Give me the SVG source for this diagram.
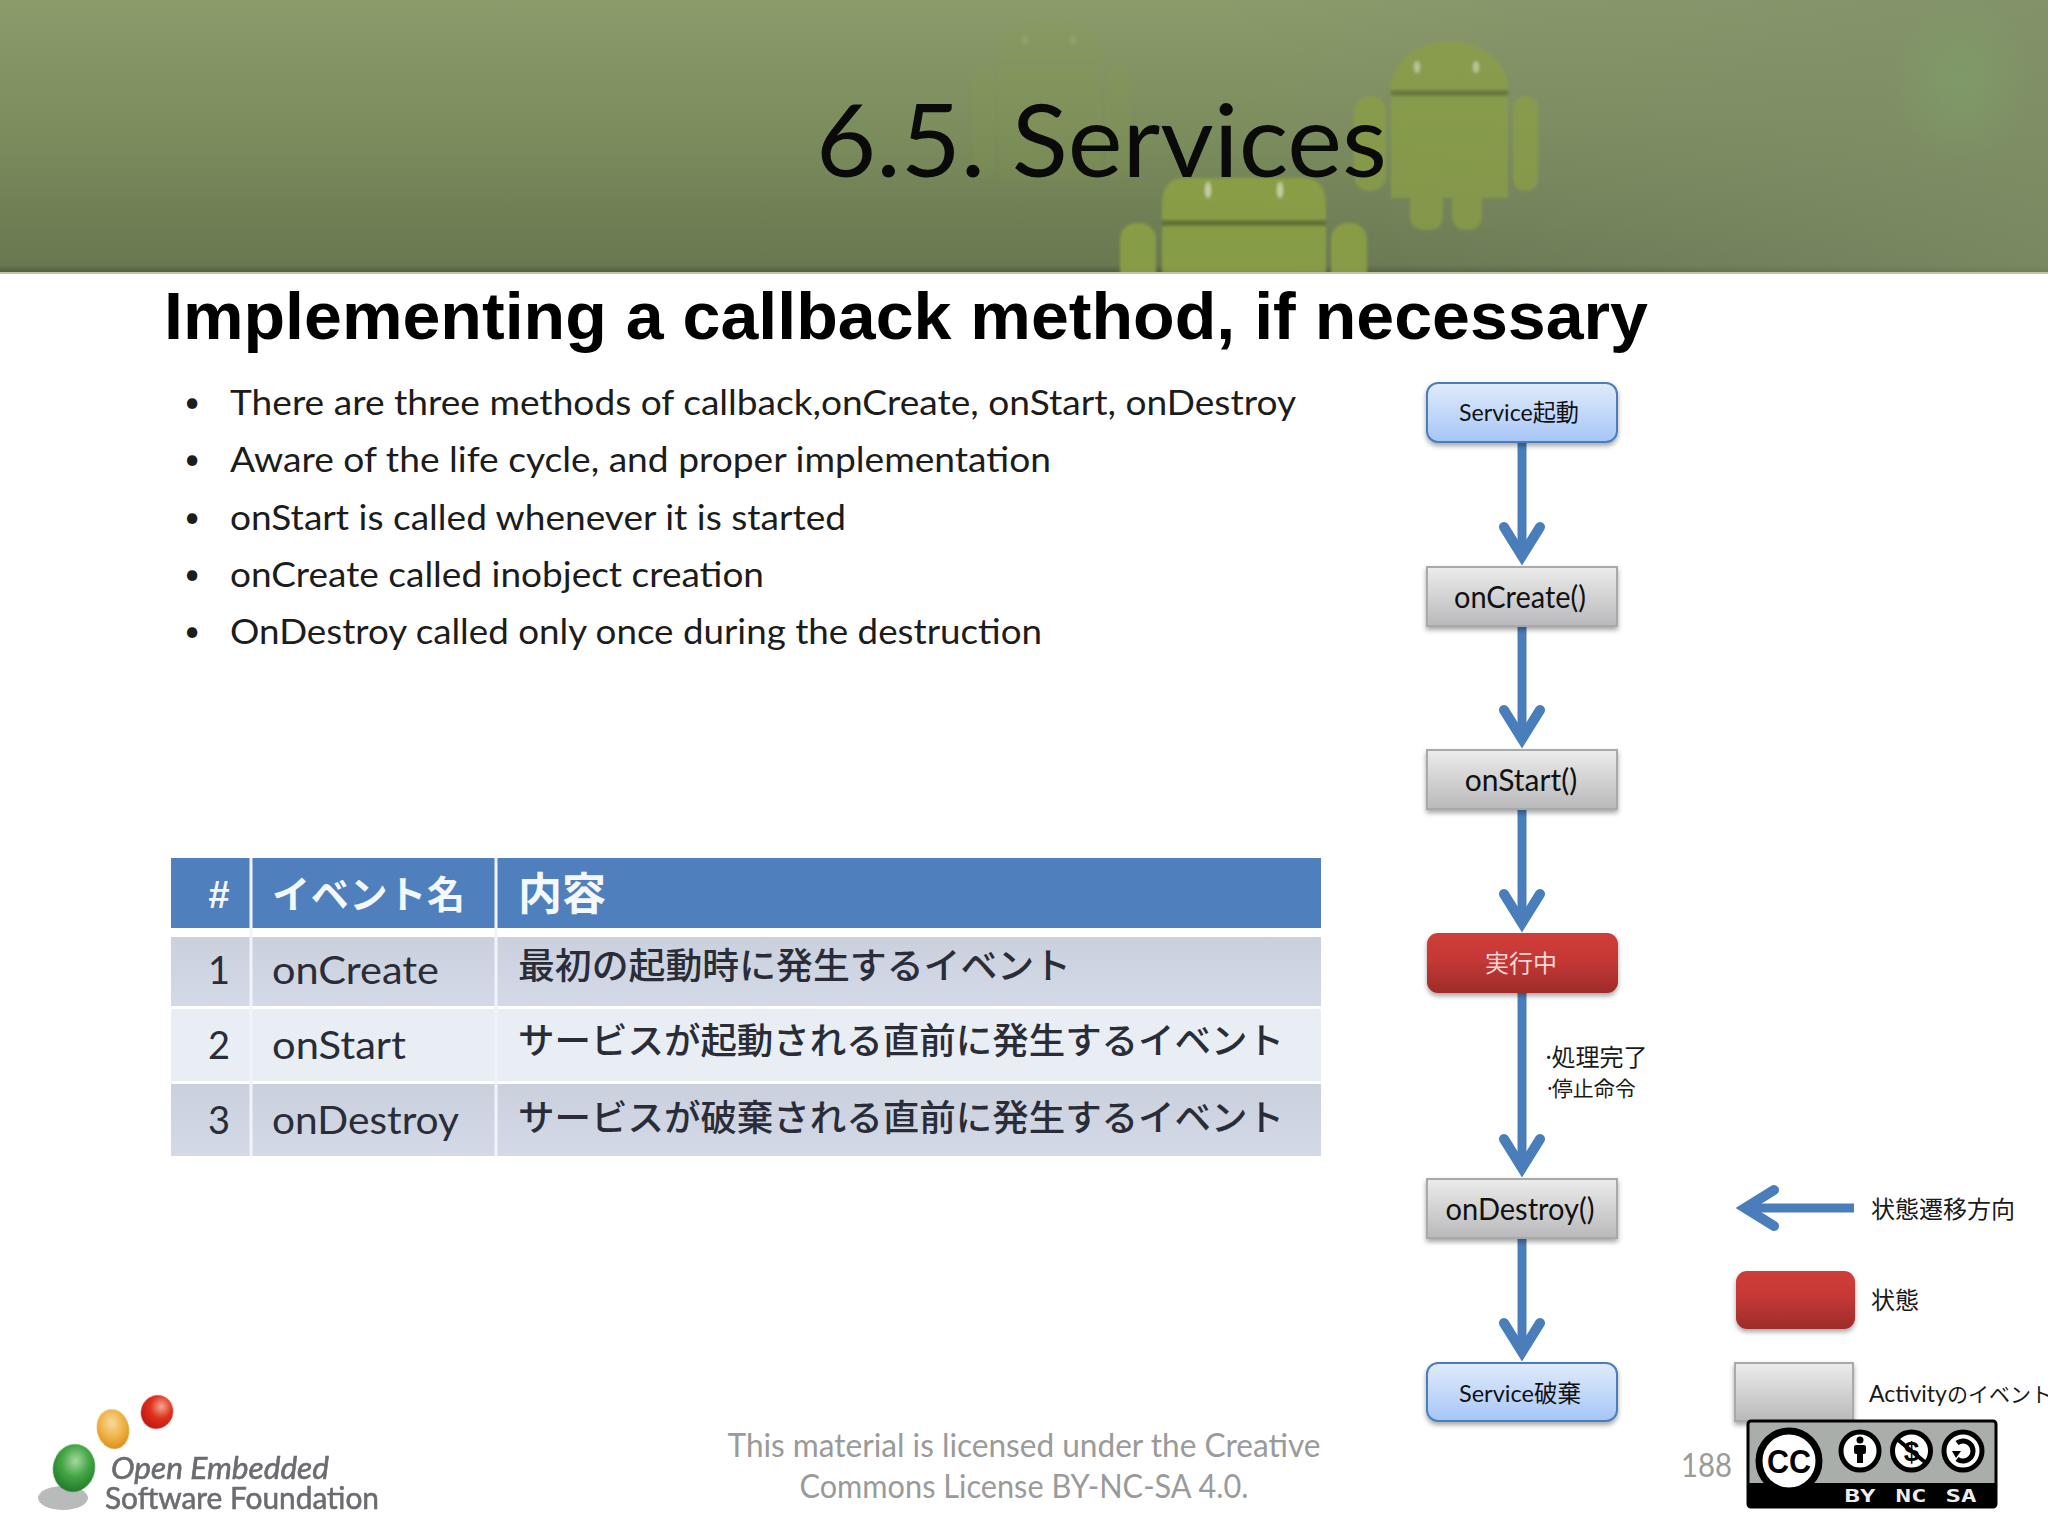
<svg xmlns="http://www.w3.org/2000/svg" width="2048" height="1536" viewBox="0 0 2048 1536">
<style>
.lat{font-family:"Lato","Open Sans","Liberation Sans",sans-serif}
.jp{font-family:"Noto Sans CJK JP","Noto Sans",sans-serif}
.mix{font-family:"Lato","Noto Sans CJK JP",sans-serif}
.bul{font-size:35px;fill:#1c1c1c}
.dot{font-size:28px;fill:#1c1c1c}
.lab{font-size:30px;fill:#111;text-anchor:middle}
.sm{font-size:24px;fill:#1a1a1a}
.hd{font-size:38px;font-weight:700;fill:#f4f8fc}
.cell{font-size:36px;font-weight:500;fill:#2a2d38}
.num{font-size:38px;fill:#2a2d38}
.foot{font-size:32px;fill:#9a9a9a}
.conn{stroke:#4a7ebb;stroke-width:9;fill:none;marker-end:url(#chev)}
.node{filter:url(#sh)}
.blue{fill:url(#gb);stroke:#4a7ebb;stroke-width:2}
.grey{fill:url(#gg);stroke:#a9a9a9;stroke-width:2}
.red{fill:url(#gr)}
.and{fill:#8ba045}
.sep{fill:#5f7030}
.eye{fill:#cfd8a8}
.badge{font-family:"DejaVu Sans Mono","Liberation Mono",monospace;font-weight:700;fill:#eee;font-size:18px;text-anchor:middle}
</style>
<defs>
<linearGradient id="bg" x1="0" y1="0" x2="0" y2="1"><stop offset="0" stop-color="#8b9b6a"/><stop offset="0.45" stop-color="#7d8e5e"/><stop offset="0.97" stop-color="#687850"/><stop offset="1" stop-color="#505c3c"/></linearGradient>
<linearGradient id="bgr" x1="0" y1="0" x2="1" y2="0"><stop offset="0.6" stop-color="#808a70" stop-opacity="0"/><stop offset="1" stop-color="#7f8f68" stop-opacity="0.7"/></linearGradient>
<radialGradient id="glow" cx="0.5" cy="0.5" r="0.5"><stop offset="0" stop-color="#7fa068" stop-opacity="0.6"/><stop offset="1" stop-color="#7fa068" stop-opacity="0"/></radialGradient>
<linearGradient id="gb" x1="0" y1="0" x2="0" y2="1"><stop offset="0" stop-color="#e0ebfb"/><stop offset="1" stop-color="#a6c6f7"/></linearGradient>
<linearGradient id="gg" x1="0" y1="0" x2="0" y2="1"><stop offset="0" stop-color="#ececec"/><stop offset="1" stop-color="#b9b9bb"/></linearGradient>
<linearGradient id="gr" x1="0" y1="0" x2="0" y2="1"><stop offset="0" stop-color="#cf3d3a"/><stop offset="0.45" stop-color="#c53835"/><stop offset="1" stop-color="#9e2c2a"/></linearGradient>
<linearGradient id="r1" x1="0" y1="0" x2="0" y2="1"><stop offset="0" stop-color="#cbd0dd"/><stop offset="1" stop-color="#d3d9e7"/></linearGradient>
<radialGradient id="eg" cx="0.5" cy="0.35" r="0.65"><stop offset="0" stop-color="#a6d8a0"/><stop offset="0.5" stop-color="#45a645"/><stop offset="1" stop-color="#1f7a2a"/></radialGradient>
<radialGradient id="eo" cx="0.5" cy="0.35" r="0.65"><stop offset="0" stop-color="#f6dba0"/><stop offset="0.6" stop-color="#eeb040"/><stop offset="1" stop-color="#d98f1e"/></radialGradient>
<radialGradient id="er" cx="0.55" cy="0.3" r="0.7"><stop offset="0" stop-color="#f3a890"/><stop offset="0.5" stop-color="#e0301c"/><stop offset="1" stop-color="#c01810"/></radialGradient>
<filter id="sh" x="-10%" y="-10%" width="120%" height="130%"><feDropShadow dx="0" dy="3" stdDeviation="2.5" flood-color="#000" flood-opacity="0.35"/></filter>
<filter id="bl"><feGaussianBlur stdDeviation="1.5"/></filter>
<filter id="bl2"><feGaussianBlur stdDeviation="0.7"/></filter>
<marker id="chev" markerUnits="userSpaceOnUse" viewBox="-45 -25 60 50" markerWidth="60" markerHeight="50" refX="0" refY="0" orient="auto"><path d="M-31,-18 L-2,0 L-31,18" fill="none" stroke="#4a7ebb" stroke-width="10" stroke-linecap="round" stroke-linejoin="miter" stroke-miterlimit="6"/></marker>
</defs>

<g id="header">
<rect x="0" y="0" width="2048" height="273" fill="url(#bg)"/>
<rect x="0" y="0" width="2048" height="273" fill="url(#bgr)"/>
<ellipse cx="1960" cy="80" rx="70" ry="90" fill="url(#glow)"/>
<g opacity="0.14" filter="url(#bl)">
<path class="and" d="M999,60 V52 A51,32 0 0 1 1101,52 V60 Z M999,65 H1101 V180 H999 Z"/>
<rect class="and" x="973" y="68" width="22" height="110" rx="11"/><rect class="and" x="1106" y="68" width="24" height="110" rx="11"/>
<ellipse class="eye" cx="1025" cy="40" rx="3" ry="5"/><ellipse class="eye" cx="1073" cy="40" rx="3" ry="5"/>
</g>
<g opacity="0.72" filter="url(#bl)">
<path class="and" d="M1391,88 A58,46 0 0 1 1508,88 V90 H1391 Z M1391,96 H1508 V198 H1391 Z"/>
<rect class="and" x="1354" y="96" width="32" height="95" rx="15"/><rect class="and" x="1513" y="96" width="25" height="95" rx="12"/>
<rect class="and" x="1410" y="190" width="33" height="40" rx="13"/><rect class="and" x="1452" y="190" width="30" height="40" rx="13"/>
<rect class="sep" x="1391" y="90" width="117" height="6"/>
<ellipse class="eye" cx="1417" cy="67" rx="3" ry="6"/><ellipse class="eye" cx="1476" cy="67" rx="3" ry="6"/>
</g>
<g opacity="0.9" filter="url(#bl)">
<path class="and" d="M1162,220 V205 Q1162,178 1185,178 H1303 Q1326,178 1326,205 V220 Z M1162,226 H1326 V273 H1162 Z"/>
<rect class="sep" x="1162" y="220" width="164" height="6"/>
<rect class="and" x="1120" y="223" width="36" height="70" rx="16"/><rect class="and" x="1331" y="223" width="36" height="70" rx="16"/>
<ellipse class="eye" cx="1208" cy="190" rx="3" ry="8"/><ellipse class="eye" cx="1280" cy="190" rx="3" ry="8"/>
</g>
<rect x="0" y="272" width="2048" height="2" fill="#bfc4a8"/>
<rect x="0" y="274" width="2048" height="40" fill="#fff"/>
<text id="title" class="lat" x="816" y="177" font-size="101" fill="#0a0a0a" textLength="571" lengthAdjust="spacingAndGlyphs">6.5. Services</text>
</g>

<text id="subheading" x="164" y="339" font-family="Liberation Sans, sans-serif" font-weight="700" font-size="66" fill="#000" textLength="1484" lengthAdjust="spacingAndGlyphs">Implementing a callback method, if necessary</text>

<g id="bullets" class="lat">
<text class="dot" x="184" y="412">•</text><text class="bul" x="230" y="415" textLength="1066" lengthAdjust="spacingAndGlyphs">There are three methods of callback,onCreate, onStart, onDestroy</text>
<text class="dot" x="184" y="469">•</text><text class="bul" x="230" y="472" textLength="821" lengthAdjust="spacingAndGlyphs">Aware of the life cycle, and proper implementation</text>
<text class="dot" x="184" y="527">•</text><text class="bul" x="230" y="530" textLength="616" lengthAdjust="spacingAndGlyphs">onStart is called whenever it is started</text>
<text class="dot" x="184" y="584">•</text><text class="bul" x="230" y="587" textLength="534" lengthAdjust="spacingAndGlyphs">onCreate called inobject creation</text>
<text class="dot" x="184" y="641">•</text><text class="bul" x="230" y="644" textLength="812" lengthAdjust="spacingAndGlyphs">OnDestroy called only once during the destruction</text>
</g>

<g id="table">
<rect x="171" y="858" width="1150" height="70" fill="#4f80bd"/>
<rect x="171" y="937" width="1150" height="69" fill="url(#r1)"/>
<rect x="171" y="1009" width="1150" height="72" fill="#e9edf4"/>
<rect x="171" y="1084" width="1150" height="72" fill="url(#r1)"/>
<path d="M251,858 V1156 M496,858 V1156" stroke="#f0f4fa" stroke-width="3"/>
<g class="jp">
<text class="hd" x="219" y="908" text-anchor="middle" font-family="Liberation Sans">#</text>
<text class="hd" x="272" y="908" textLength="193">イベント名</text>
<text class="hd" x="518" y="910" style="font-size:44px">内容</text>
<text class="cell" x="518" y="979" textLength="553" lengthAdjust="spacingAndGlyphs">最初の起動時に発生するイベント</text>
<text class="cell" x="518" y="1054" textLength="766" lengthAdjust="spacingAndGlyphs">サービスが起動される直前に発生するイベント</text>
<text class="cell" x="518" y="1131" textLength="766" lengthAdjust="spacingAndGlyphs">サービスが破棄される直前に発生するイベント</text>
</g>
<g class="lat">
<text class="num" x="219" y="984" text-anchor="middle">1</text>
<text class="num" x="219" y="1059" text-anchor="middle">2</text>
<text class="num" x="219" y="1134" text-anchor="middle">3</text>
<text class="num" x="272" y="984" textLength="167" lengthAdjust="spacingAndGlyphs">onCreate</text>
<text class="num" x="272" y="1059" textLength="134" lengthAdjust="spacingAndGlyphs">onStart</text>
<text class="num" x="272" y="1134" textLength="187" lengthAdjust="spacingAndGlyphs">onDestroy</text>
</g>
</g>

<g id="connectors">
<path class="conn" d="M1522,442 V558"/>
<path class="conn" d="M1522,626 V741"/>
<path class="conn" d="M1522,809 V925"/>
<path class="conn" d="M1522,993 V1170"/>
<path class="conn" d="M1522,1238 V1354"/>
<path class="conn" d="M1854,1208 H1743"/>
</g>

<g id="node-service-start">
<rect class="node blue" x="1427" y="383" width="190" height="59" rx="11"/>
<text class="mix" x="1459" y="421" font-size="24" fill="#111" textLength="120" lengthAdjust="spacingAndGlyphs">Service起動</text>
</g>
<g id="node-oncreate">
<rect class="node grey" x="1427" y="567" width="190" height="59"/>
<text class="lat lab" x="1520" y="608" textLength="132" lengthAdjust="spacingAndGlyphs">onCreate()</text>
</g>
<g id="node-onstart">
<rect class="node grey" x="1427" y="750" width="190" height="59"/>
<text class="lat lab" x="1521" y="791">onStart()</text>
</g>
<g id="node-running">
<rect class="node red" x="1427" y="933" width="191" height="60" rx="11"/>
<text class="jp" x="1521" y="972" font-size="24" text-anchor="middle" fill="#f6d9d6">実行中</text>
</g>
<g id="node-ondestroy">
<rect class="node grey" x="1427" y="1179" width="190" height="59"/>
<text class="lat lab" x="1520" y="1220" textLength="149" lengthAdjust="spacingAndGlyphs">onDestroy()</text>
</g>
<g id="node-service-end">
<rect class="node blue" x="1427" y="1363" width="190" height="58" rx="11"/>
<text class="mix" x="1459" y="1402" font-size="24" fill="#111" textLength="122" lengthAdjust="spacingAndGlyphs">Service破棄</text>
</g>

<g id="transition-label" class="jp">
<text class="sm" x="1542" y="1066">·<tspan dx="-4">処理完了</tspan></text>
<text x="1544" y="1096" font-size="21" fill="#1a1a1a">·<tspan dx="-4">停止命令</tspan></text>
</g>

<g id="legend">
<text class="jp sm" x="1871" y="1218">状態遷移方向</text>
<rect class="node red" x="1736" y="1271" width="119" height="58" rx="11"/>
<text class="jp sm" x="1871" y="1309">状態</text>
<rect class="node grey" x="1735" y="1363" width="118" height="58"/>
<text class="mix" x="1869" y="1402" fill="#1a1a1a"><tspan font-size="23">Activity</tspan><tspan font-size="21" font-family="Noto Sans CJK JP, sans-serif">のイベント</tspan></text>
</g>

<g id="footer" class="lat">
<text class="foot" x="1024" y="1457" text-anchor="middle" textLength="593" lengthAdjust="spacingAndGlyphs">This material is licensed under the Creative</text>
<text class="foot" x="1024" y="1498" text-anchor="middle" textLength="449" lengthAdjust="spacingAndGlyphs">Commons License BY-NC-SA 4.0.</text>
<text class="foot" x="1681" y="1477" textLength="51" lengthAdjust="spacingAndGlyphs">188</text>
</g>

<g id="cc-badge">
<rect x="1748" y="1421" width="248" height="86" rx="3" fill="#aaaeaa" stroke="#000" stroke-width="3"/>
<rect x="1748" y="1483" width="248" height="24" fill="#000"/>
<circle cx="1789" cy="1461" r="30" fill="#fff" stroke="#000" stroke-width="7"/>
<text x="1789" y="1473" font-family="Liberation Sans, sans-serif" font-weight="700" font-size="33" text-anchor="middle" fill="#000" textLength="44" lengthAdjust="spacingAndGlyphs">CC</text>
<circle cx="1860" cy="1451" r="19" fill="#fff" stroke="#000" stroke-width="5"/>
<circle cx="1860" cy="1440" r="3.500" fill="#000"/><rect x="1854" y="1445" width="12" height="9" rx="2" fill="#000"/><rect x="1857" y="1452" width="6" height="11" fill="#000"/>
<circle cx="1911.500" cy="1451" r="19" fill="#fff" stroke="#000" stroke-width="5"/>
<text x="1911.500" y="1461" font-family="Liberation Sans, sans-serif" font-weight="700" font-size="28" text-anchor="middle" fill="#000">$</text>
<path d="M1897,1439 L1926,1463" stroke="#000" stroke-width="4"/>
<circle cx="1963" cy="1451" r="19" fill="#fff" stroke="#000" stroke-width="5"/>
<path d="M1957,1443 A10,10 0 1 1 1957,1459" fill="none" stroke="#000" stroke-width="5"/><path d="M1952,1451 L1961,1451 L1956,1458 Z" fill="#000"/>
<text class="badge" x="1860" y="1502" textLength="31" lengthAdjust="spacingAndGlyphs">BY</text><text class="badge" x="1911" y="1502" textLength="31" lengthAdjust="spacingAndGlyphs">NC</text><text class="badge" x="1961" y="1502" textLength="31" lengthAdjust="spacingAndGlyphs">SA</text>
</g>

<g id="logo">
<ellipse cx="63" cy="1498" rx="25" ry="12" fill="#b9bbbb" filter="url(#bl2)"/>
<ellipse cx="74" cy="1468" rx="21" ry="24" fill="url(#eg)" transform="rotate(12 74 1468)" filter="url(#bl2)"/>
<ellipse cx="113" cy="1429" rx="16" ry="20" fill="url(#eo)" transform="rotate(-12 113 1429)" filter="url(#bl2)"/>
<ellipse cx="157" cy="1412" rx="16" ry="17" fill="url(#er)" transform="rotate(25 157 1412)" filter="url(#bl2)"/>
<g font-family="Lato, sans-serif" fill="#6a6c70" stroke="#6a6c70" stroke-width="0.6" filter="url(#bl2)">
<text x="111" y="1479" font-size="31" font-style="italic" textLength="218" lengthAdjust="spacingAndGlyphs">Open Embedded</text>
<text x="105" y="1509" font-size="31" textLength="274" lengthAdjust="spacingAndGlyphs">Software Foundation</text>
</g>
</g>
</svg>
